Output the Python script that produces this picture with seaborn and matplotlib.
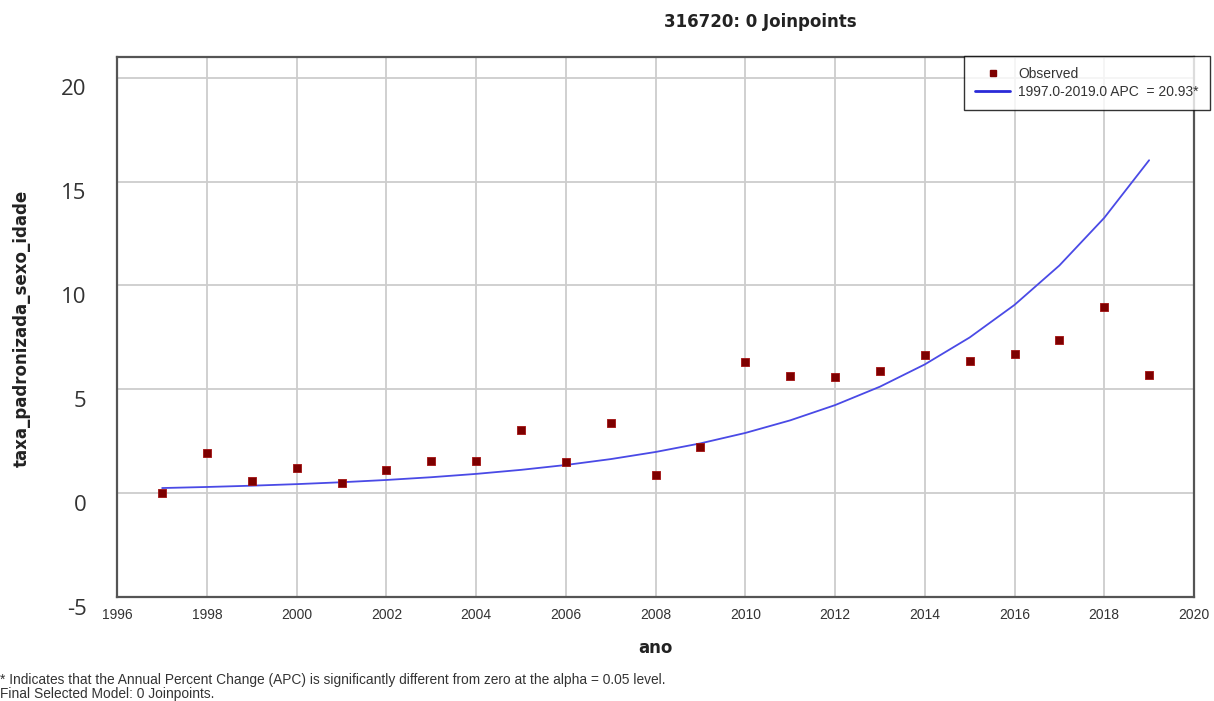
import numpy as np
import pandas as pd
import matplotlib
matplotlib.use("Agg")
import matplotlib.pyplot as plt
import matplotlib.transforms as mtransforms
from matplotlib.lines import Line2D
import seaborn as sns

# Observed age/sex-standardised rates per year
anos = [1997, 1998, 1999, 2000, 2001, 2002, 2003, 2004, 2005, 2006, 2007, 2008,
        2009, 2010, 2011, 2012, 2013, 2014, 2015, 2016, 2017, 2018, 2019]
taxa = [0.02, 1.94, 0.56, 1.22, 0.47, 1.12, 1.57, 1.56, 3.03, 1.49, 3.39, 0.86,
        2.21, 6.29, 5.64, 5.60, 5.87, 6.66, 6.37, 6.69, 7.38, 8.95, 5.68]

# Joinpoint model (0 joinpoints): single log-linear segment
apc = 20.93
taxa_inicial_modelo = 0.245
segmento = "1997.0-2019.0 APC  = 20.93*"

x_ticks = [1996, 1998, 2000, 2002, 2004, 2006, 2008, 2010, 2012, 2014, 2016, 2018, 2020]
y_ticks = [-5, 0, 5, 10, 15, 20]

obs = pd.DataFrame({"ano": anos, "taxa": taxa})
modelo = pd.DataFrame({"ano": anos})
modelo["taxa"] = taxa_inicial_modelo * (1 + apc / 100.0) ** (modelo["ano"] - anos[0])

sns.set_style("white")
plt.rcParams["font.family"] = ["Liberation Sans", "DejaVu Sans"]

fig = plt.figure(figsize=(12.14, 7.01), dpi=100)
ax = fig.add_axes([0.0966, 0.1484, 0.8869, 0.7703])

for v in x_ticks[1:-1]:
    ax.axvline(v, color="#cdcdcd", lw=1.3, zorder=0)
for v in y_ticks[1:]:
    ax.axhline(v, color="#cdcdcd", lw=1.3, zorder=0)

sns.lineplot(data=modelo, x="ano", y="taxa", ax=ax, color="#4a4ae6", lw=1.3,
             zorder=2, legend=False)
sns.scatterplot(data=obs, x="ano", y="taxa", ax=ax, marker="s", s=34,
                color="#7d0000", edgecolor="#a31010", linewidth=0.6,
                zorder=3, legend=False)

ax.set_xlim(1996, 2020)
ax.set_ylim(-5, 21)
ax.set_xticks(x_ticks)
ax.set_xticklabels([str(t) for t in x_ticks], fontsize=10, color="#333333")
ax.set_yticks(y_ticks)
ax.set_yticklabels([str(t) for t in y_ticks], fontsize=16, color="#333333",
                   family="Open Sans")
ax.tick_params(axis="both", length=0)
ax.tick_params(axis="x", pad=8)
ax.tick_params(axis="y", pad=22)
shift = mtransforms.ScaledTranslation(0, -7 / 72, fig.dpi_scale_trans)
for lab in ax.get_yticklabels():
    lab.set_transform(lab.get_transform() + shift)

ax.set_xlabel("ano", fontsize=12, fontweight="bold", family="DejaVu Sans",
              labelpad=12, color="#222222")
ax.set_ylabel("")
fig.text(22 / 1214, 1 - 328 / 701, "taxa_padronizada_sexo_idade", rotation=90,
         ha="center", va="center", fontsize=12, fontweight="bold",
         family="DejaVu Sans", color="#222222")

for sp in ax.spines.values():
    sp.set_color("#555555")
    sp.set_linewidth(1.6)

handles = [
    Line2D([], [], marker="s", ls="none", color="#7d0000", markersize=5),
    Line2D([], [], color="#2a2ad8", lw=2),
]
leg = fig.legend(handles, ["Observed", segmento], loc="upper right",
                 bbox_to_anchor=(1210 / 1214, 1 - 56 / 701), fontsize=10,
                 frameon=True, fancybox=False, borderpad=0.8,
                 handlelength=2.5, labelspacing=0.25, handletextpad=0.6,
                 borderaxespad=0)
leg.get_frame().set_edgecolor("#000000")
leg.get_frame().set_linewidth(1.0)
for t in leg.get_texts():
    t.set_color("#333333")

fig.text(760 / 1214, 1 - 22 / 701, "316720: 0 Joinpoints", ha="center",
         va="center", fontsize=12, fontweight="bold", family="DejaVu Sans",
         color="#222222")

fig.text(0.0, 1 - 680 / 701,
         "* Indicates that the Annual Percent Change (APC) is significantly "
         "different from zero at the alpha = 0.05 level.",
         ha="left", va="center", fontsize=9.9, color="#333333")
fig.text(0.0, 1 - 694 / 701, "Final Selected Model: 0 Joinpoints.",
         ha="left", va="center", fontsize=9.9, color="#333333")

fig.savefig("out.png", dpi=100, facecolor="white")
